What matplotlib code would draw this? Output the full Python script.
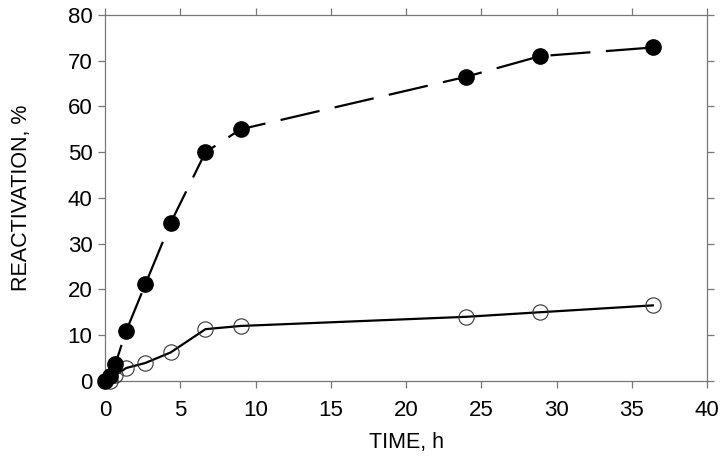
import matplotlib
matplotlib.use("Agg")
import matplotlib.pyplot as plt
import numpy as np

# time points, h
time_filled = np.array([0, 0.3, 0.67, 1.4, 2.67, 4.35, 6.67, 9.0, 24.0, 28.9, 36.4])
react_filled = np.array([0, 1.0, 3.6, 10.9, 21.1, 34.5, 50.0, 55.0, 66.5, 71.0, 72.9])

time_open = np.array([0.33, 0.67, 1.4, 2.67, 4.35, 6.67, 9.0, 24.0, 28.9, 36.4])
react_open = np.array([0.0, 1.2, 2.8, 3.9, 6.2, 11.3, 12.0, 14.0, 15.0, 16.5])

x_ticks = [0, 5, 10, 15, 20, 25, 30, 35, 40]
y_ticks = [0, 10, 20, 30, 40, 50, 60, 70, 80]

plt.rcParams['font.family'] = ['Liberation Sans', 'DejaVu Sans']

fig = plt.figure(figsize=(7.2, 4.69), dpi=100)
ax = fig.add_axes([0.146, 0.188, 0.836, 0.780])

ax.plot(time_open, react_open, color="black", lw=1.6, marker="o", ms=11,
        mfc="none", mec="#333333", mew=0.8, clip_on=False, zorder=3)
line, = ax.plot(time_filled, react_filled, color="black", lw=1.6, marker="o",
                ms=11, mfc="black", mec="black", clip_on=False, zorder=4)
line.set_dashes([18, 7])

ax.set_xlim(0, 40)
ax.set_ylim(0, 80)
ax.set_xticks(x_ticks)
ax.set_yticks(y_ticks)

for s in ax.spines.values():
    s.set_color("#777777")
    s.set_linewidth(0.9)

ax.tick_params(axis="both", direction="out", length=5, width=0.9,
               color="#777777", labelsize=16, top=True, right=True)
ax.tick_params(axis="x", pad=9)
ax.tick_params(axis="y", pad=4)

ax.set_xlabel("TIME, h", fontsize=15.5, labelpad=8)
ax.set_ylabel("REACTIVATION, %", fontsize=15.5, labelpad=26)

fig.savefig("out.png", dpi=100)
